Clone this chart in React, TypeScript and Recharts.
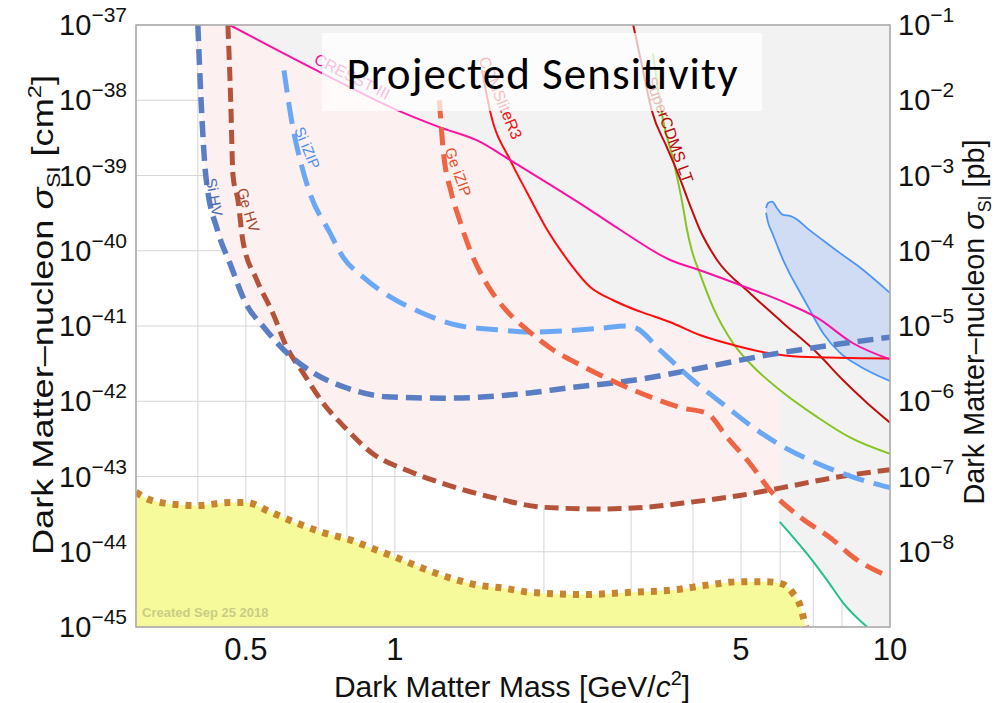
import React from "react";
import { ComposedChart, Line, Area, XAxis, YAxis, CartesianGrid } from "recharts";

const W = 998;
const H = 703;
const AXIS_FONT = "'Liberation Sans', Arial, Helvetica, sans-serif";

// axes
const massTicks = [0.4, 0.5, 0.6, 0.7, 0.8, 0.9, 1, 2, 3, 4, 5, 6, 7, 8, 9, 10];
const massLabels = [0.5, 1, 5, 10];
const cmTicks = [1e-45, 1e-44, 1e-43, 1e-42, 1e-41, 1e-40, 1e-39, 1e-38, 1e-37];
const pbTicks = [1e-8, 1e-7, 1e-6, 1e-5, 1e-4, 1e-3, 1e-2, 1e-1];

// projected sensitivities [mass GeV, sigma cm^2]
const siHV: [number, number][] = [
  [0.4, 1e-37], [0.406, 1e-38], [0.415, 1e-39], [0.439, 1.8e-40], [0.464, 6.9e-41],
  [0.502, 1.9e-41], [0.541, 1.0e-41], [0.605, 4.4e-42], [0.683, 2.4e-42], [0.8, 1.5e-42],
  [0.96, 1.15e-42], [1.27, 1.1e-42], [1.87, 1.29e-42], [2.23, 1.5e-42], [3.03, 1.9e-42],
  [4.13, 2.75e-42], [5.64, 4.1e-42], [7.67, 5.6e-42], [10, 7.1e-42],
];
const geHV: [number, number][] = [
  [0.46, 1e-37], [0.466, 1e-38], [0.471, 1e-39], [0.482, 4.7e-40], [0.493, 1.38e-40],
  [0.526, 4.1e-41], [0.567, 1.48e-41], [0.605, 5.2e-42], [0.652, 2.4e-42], [0.716, 9.5e-43],
  [0.8, 4.2e-43], [0.903, 2.0e-43], [1.06, 1.2e-43], [1.27, 7.8e-44], [1.61, 5.1e-44],
  [1.99, 3.9e-44], [2.59, 3.7e-44], [3.03, 3.8e-44], [4.0, 4.6e-44], [4.98, 5.6e-44],
  [5.99, 7.0e-44], [7.67, 9.6e-44], [10, 1.23e-43],
];
const siIZIP: [number, number][] = [
  [0.597, 2.5e-38], [0.622, 4.4e-39], [0.649, 1.3e-39], [0.673, 5.9e-40], [0.739, 1.74e-40],
  [0.785, 8.3e-41], [0.862, 4.5e-41], [0.977, 2.45e-41], [1.12, 1.55e-41], [1.33, 1.03e-41],
  [1.61, 8.9e-42], [1.87, 8.3e-42], [2.59, 9.3e-42], [2.94, 1.0e-41], [3.08, 9.3e-42],
  [3.43, 4.8e-42], [4.0, 1.9e-42], [4.69, 8.3e-43], [5.29, 4.5e-43], [6.08, 2.5e-43],
  [7.12, 1.5e-43], [8.42, 9.8e-44], [10, 7.1e-44],
];
const geIZIP: [number, number][] = [
  [1.23, 1e-38], [1.25, 2.4e-39], [1.3, 5.9e-40], [1.35, 2.6e-40], [1.42, 1e-40],
  [1.53, 3.7e-41], [1.68, 1.6e-41], [1.85, 8.9e-42], [2.06, 5.1e-42], [2.4, 2.9e-42],
  [2.81, 1.75e-42], [3.27, 1.15e-42], [3.82, 8.1e-43], [4.27, 6.9e-43], [4.69, 3.3e-43],
  [5.21, 1.5e-43], [5.72, 6.6e-44], [6.58, 2.9e-44], [7.67, 1.44e-44], [8.42, 8.5e-45],
  [10, 4.6e-45],
];

// existing limits
const cresst: [number, number][] = [
  [0.464, 1e-37], [0.695, 2.5e-38], [1.01, 7.4e-39], [1.23, 4.4e-39], [1.47, 2.9e-39],
  [1.71, 1.6e-39], [2.03, 8.0e-40], [2.36, 4.3e-40], [2.85, 1.9e-40], [3.59, 7.6e-41],
  [4.13, 5.5e-41], [4.98, 3.5e-41], [6.19, 2.0e-41], [7.12, 1.29e-41], [8.42, 5.9e-42],
  [10, 3.6e-42],
];
const cdmslite: [number, number][] = [
  [1.5, 2.5e-38], [1.56, 6.8e-39], [1.71, 1.6e-39], [1.85, 5.9e-40], [2.03, 1.9e-40],
  [2.23, 7.6e-41], [2.48, 3.3e-41], [2.76, 2.2e-41], [3.13, 1.55e-41], [3.59, 1.13e-41],
  [4.13, 7.6e-42], [4.82, 5.6e-42], [5.64, 4.4e-42], [6.58, 3.9e-42], [10, 3.7e-42],
];
const superCdmsLT: [number, number][] = [
  [3.03, 1e-37], [3.17, 2.5e-38], [3.3, 7.4e-39], [3.54, 2.4e-39], [3.73, 1.07e-39],
  [3.94, 4.1e-40], [4.13, 1.9e-40], [4.47, 7.6e-41], [5.21, 2.75e-41], [6.08, 1.1e-41],
  [7.12, 4.4e-42], [8.04, 1.9e-42], [8.99, 9.5e-43], [10, 5.2e-43],
];
const greenLimit: [number, number][] = [
  [3.32, 4.2e-38], [3.48, 5.5e-39], [3.65, 1.6e-39], [3.82, 3.8e-40], [3.89, 1.9e-40],
  [3.98, 1e-40], [4.13, 5.0e-41], [4.39, 1.78e-41], [4.82, 5.9e-42], [5.29, 2.9e-42],
  [5.99, 1.41e-42], [7.12, 6.2e-43], [8.3, 3.3e-43], [10, 2.0e-43],
];
const tealLimit: [number, number][] = [
  [5.99, 2.5e-44], [6.79, 9.5e-45], [7.46, 4.2e-45], [8.04, 2.1e-45], [8.99, 1.0e-45],
];
const neutrinoFloor: [number, number][] = [
  [0.3, 6.2e-44], [0.32, 4.9e-44], [0.368, 4.2e-44], [0.398, 4.1e-44], [0.464, 4.5e-44],
  [0.502, 4.5e-44], [0.559, 3.4e-44], [0.634, 2.4e-44], [0.716, 1.8e-44], [0.811, 1.44e-44],
  [0.92, 1.05e-44], [1.01, 8.3e-45], [1.14, 6.0e-45], [1.29, 4.5e-45], [1.47, 3.6e-45],
  [1.65, 3.3e-45], [1.87, 2.9e-45], [2.4, 2.7e-45], [3.03, 2.9e-45], [3.65, 3.1e-45],
  [4.27, 3.6e-45], [4.98, 4.0e-45], [5.64, 4.0e-45], [6.08, 3.7e-45], [6.37, 2.8e-45],
  [6.58, 1.95e-45], [6.73, 1.12e-45], [6.76, 1e-45],
];
// signal contour [mass, low, high]
const contour: [number, number, number][] = [
  [5.62, 3.2e-40, 3.7e-40], [5.67, 2.4e-40, 4.3e-40], [5.78, 1.74e-40, 4.5e-40],
  [5.91, 1.2e-40, 3.7e-40], [6.08, 7.6e-41, 3.0e-40], [6.28, 4.9e-41, 2.9e-40],
  [6.49, 3.3e-41, 2.6e-40], [6.8, 1.9e-41, 2.0e-40], [7.32, 8.1e-42, 1.38e-40],
  [7.93, 4.4e-42, 9.3e-41], [8.7, 2.9e-42, 6.0e-41], [10, 1.86e-42, 2.75e-41],
];

// shaded regions: lower edges (upper edge is the top of the plot)
const projectedEdge: [number, number][] = [
  [0.4, 1e-37], [0.406, 1e-38], [0.415, 1e-39], [0.439, 1.8e-40], [0.464, 6.9e-41],
  [0.502, 1.9e-41], [0.541, 1.0e-41], [0.6, 4.7e-42], [0.652, 2.4e-42], [0.716, 9.5e-43],
  [0.8, 4.2e-43], [0.903, 2.0e-43], [1.06, 1.2e-43], [1.27, 7.8e-44], [1.61, 5.1e-44],
  [1.99, 3.9e-44], [2.59, 3.7e-44], [3.03, 3.8e-44], [4.0, 4.6e-44], [4.98, 5.6e-44],
  [5.72, 6.6e-44], [6.0, 5.0e-44],
];
const excludedEdge: [number, number][] = [
  [0.464, 1e-37], [0.695, 2.5e-38], [1.01, 7.4e-39], [1.23, 4.4e-39], [1.47, 2.9e-39],
  [1.7, 1.65e-39], [1.85, 5.9e-40], [2.03, 1.9e-40], [2.23, 7.6e-41], [2.48, 3.3e-41],
  [2.76, 2.2e-41], [3.13, 1.55e-41], [3.59, 1.13e-41], [4.13, 7.6e-42], [4.85, 5.5e-42],
  [5.29, 2.9e-42], [5.99, 1.41e-42], [6.0, 2.5e-44], [6.79, 9.5e-45], [7.46, 4.2e-45],
  [8.04, 2.1e-45], [8.99, 1e-45], [10, 1e-45],
];

const TOP = 1e-37;
const BOTTOM = 1e-45;
const rows = (pts: [number, number][]) => pts.map(([m, s]) => ({ m, s }));
const bandDown = (pts: [number, number][]) => pts.map(([m, s]) => ({ m, band: [s, TOP] }));
const bandUp = (pts: [number, number][]) => pts.map(([m, s]) => ({ m, band: [BOTTOM, s] }));

function PowerTick(props: any) {
  const { x, y, payload, side } = props;
  const exp = Math.round(Math.log10(payload.value));
  const sup = exp < 0 ? "\u2212" + Math.abs(exp) : String(exp);
  return (
    <text
      x={x}
      y={y + 10}
      textAnchor={side === "left" ? "end" : "start"}
      fontFamily={AXIS_FONT}
      fontSize={29}
      fill="#111"
    >
      10
      <tspan fontSize={21} dy={-13}>
        {sup}
      </tspan>
    </text>
  );
}

function CurveLabel({ x, y, angle, color, size = 16, children }: any) {
  return (
    <text
      transform={`translate(${x},${y}) rotate(${angle})`}
      textAnchor="middle"
      dy={5}
      fontFamily={AXIS_FONT}
      fontSize={size}
      fill={color}
    >
      {children}
    </text>
  );
}

export default function App() {
  const common = { yAxisId: "cm", isAnimationActive: false, dot: false, activeDot: false } as const;
  return (
    <div style={{ position: "absolute", left: 0, top: 0, width: W, height: H, background: "#fff" }}>
      <ComposedChart width={W} height={H} margin={{ top: 25, right: 0, bottom: 0, left: 0 }}>
        <XAxis
          dataKey="m"
          type="number"
          scale="log"
          domain={[0.3, 10]}
          allowDataOverflow
          ticks={massTicks}
          interval={0}
          tickFormatter={(v: number) => (massLabels.includes(v) ? String(v) : "")}
          height={76}
          axisLine={false}
          tickLine={false}
          tickSize={0}
          tickMargin={11}
          tick={{ fontSize: 31, fill: "#111", fontFamily: AXIS_FONT }}
        />
        <YAxis
          yAxisId="cm"
          type="number"
          scale="log"
          domain={[BOTTOM, TOP]}
          allowDataOverflow
          ticks={cmTicks}
          interval={0}
          width={136}
          axisLine={false}
          tickLine={false}
          tickSize={0}
          tickMargin={9}
          tick={<PowerTick side="left" />}
        />
        <YAxis
          yAxisId="pb"
          orientation="right"
          type="number"
          scale="log"
          domain={[1e-9, 1e-1]}
          allowDataOverflow
          ticks={pbTicks}
          interval={0}
          width={108}
          axisLine={false}
          tickLine={false}
          tickSize={0}
          tickMargin={8}
          tick={<PowerTick side="right" />}
        />
        <Area {...common} data={bandDown(projectedEdge)} dataKey="band" type="linear" stroke="none" fill="#fdf0f0" fillOpacity={1} />
        <Area {...common} data={bandDown(excludedEdge)} dataKey="band" type="linear" stroke="none" fill="#f2f2f2" fillOpacity={1} />
        <CartesianGrid yAxisId="cm" stroke="#d6d6d6" strokeWidth={1} />
        <Area {...common} data={bandUp(neutrinoFloor)} dataKey="band" type="monotone" stroke="none" fill="#f6fa9a" fillOpacity={1} />
        <Area
          {...common}
          data={contour.map(([m, lo, hi]) => ({ m, band: [lo, hi] }))}
          dataKey="band"
          type="monotone"
          stroke="#4d95f5"
          strokeWidth={1.8}
          fill="#cfdcf4"
          fillOpacity={1}
        />
        <Line {...common} data={rows(tealLimit)} dataKey="s" type="monotone" stroke="#22c08f" strokeWidth={2} />
        <Line {...common} data={rows(greenLimit)} dataKey="s" type="monotone" stroke="#86c424" strokeWidth={2} />
        <Line {...common} data={rows(superCdmsLT)} dataKey="s" type="monotone" stroke="#c20e0e" strokeWidth={2} />
        <Line {...common} data={rows(cdmslite)} dataKey="s" type="monotone" stroke="#ff0d0d" strokeWidth={2} />
        <Line {...common} data={rows(cresst)} dataKey="s" type="monotone" stroke="#fb12a4" strokeWidth={2} />
        <Line {...common} data={rows(neutrinoFloor)} dataKey="s" type="monotone" stroke="#c8842f" strokeWidth={7} strokeDasharray="6 7" />
        <Line {...common} data={rows(geHV)} dataKey="s" type="monotone" stroke="#b4533a" strokeWidth={5} strokeDasharray="14 7" />
        <Line {...common} data={rows(siHV)} dataKey="s" type="monotone" stroke="#5a7ec4" strokeWidth={5.5} strokeDasharray="16 8" />
        <Line {...common} data={rows(siIZIP)} dataKey="s" type="monotone" stroke="#6aa7f5" strokeWidth={5} strokeDasharray="22 10" />
        <Line {...common} data={rows(geIZIP)} dataKey="s" type="monotone" stroke="#ef6443" strokeWidth={5} strokeDasharray="18 9" />
      </ComposedChart>

      <svg width={W} height={H} style={{ position: "absolute", left: 0, top: 0, pointerEvents: "none" }}>
        <rect x={136} y={25} width={754} height={602} fill="none" stroke="#a8a8a8" strokeWidth={1.5} />

        <CurveLabel x={214} y={197} angle={80} color="#4a6db2" size={15}>Si HV</CurveLabel>
        <CurveLabel x={248} y={210} angle={73} color="#a6452e" size={15}>Ge HV</CurveLabel>
        <CurveLabel x={307} y={148} angle={68} color="#4f93ef" size={15}>Si iZIP</CurveLabel>
        <CurveLabel x={458} y={172} angle={70} color="#e8512c" size={15}>Ge iZIP</CurveLabel>
        <CurveLabel x={352} y={77} angle={27} color="#f0109c">CRESST-III</CurveLabel>
        <CurveLabel x={500} y={98} angle={67} color="#f01010">CDMSliteR3</CurveLabel>
        <CurveLabel x={669} y={130} angle={70} color="#b80a0a">SuperCDMS LT</CurveLabel>

        <rect x={322} y={33} width={440} height={78} fill="#ffffff" fillOpacity={0.72} />
        <text
          x={542}
          y={89}
          textAnchor="middle"
          fontFamily="Carlito, Lato, 'Open Sans', sans-serif"
          fontSize={45}
          fill="#000"
          textLength={391}
        >
          Projected Sensitivity
        </text>

        <text x={142} y={617} fontFamily={AXIS_FONT} fontSize={13} fontWeight="bold" fill="#c9cd86">
          Created Sep 25 2018
        </text>

        <text x={512} y={697} textAnchor="middle" fontFamily={AXIS_FONT} fontSize={30} fill="#111">
          Dark Matter Mass [GeV/<tspan fontStyle="italic">c</tspan>
          <tspan fontSize={20} dy={-12}>2</tspan>
          <tspan dy={12}>]</tspan>
        </text>

        <text
          transform="translate(53,315) rotate(-90)"
          textAnchor="middle"
          fontFamily={AXIS_FONT}
          fontSize={29}
          fill="#111"
          textLength={480}
          lengthAdjust="spacingAndGlyphs"
        >
          Dark Matter–nucleon <tspan fontStyle="italic">σ</tspan>
          <tspan fontSize={18} dy={7}>SI</tspan>
          <tspan dy={-7}> [cm</tspan>
          <tspan fontSize={19} dy={-12}>2</tspan>
          <tspan dy={12}>]</tspan>
        </text>

        <text
          transform="translate(984,322) rotate(-90)"
          textAnchor="middle"
          fontFamily={AXIS_FONT}
          fontSize={29}
          fill="#111"
          textLength={365}
          lengthAdjust="spacingAndGlyphs"
        >
          Dark Matter–nucleon <tspan fontStyle="italic">σ</tspan>
          <tspan fontSize={18} dy={7}>SI</tspan>
          <tspan dy={-7}> [pb]</tspan>
        </text>
      </svg>
    </div>
  );
}
